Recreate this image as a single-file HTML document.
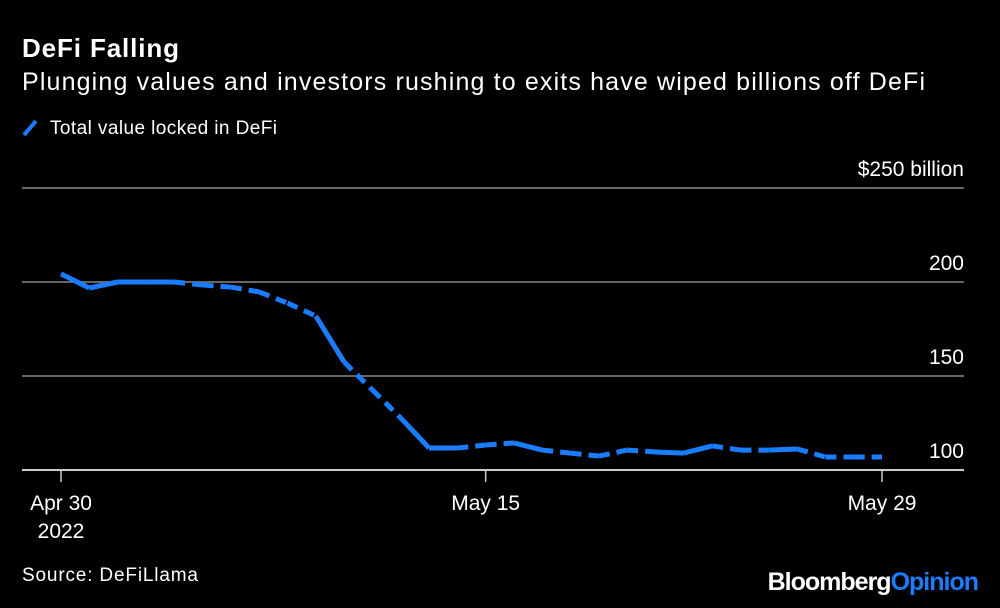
<!DOCTYPE html>
<html><head><meta charset="utf-8"><style>
body{margin:0;background:#000;width:1000px;height:603px;overflow:hidden;font-family:"Liberation Sans",sans-serif;color:#fff}
</style></head><body>
<svg width="1000" height="603">
<text x="22" y="57" font-size="26" font-weight="bold" fill="#fff" textLength="157">DeFi Falling</text>
<text x="22" y="90" font-size="25" fill="#fff" textLength="903">Plunging values and investors rushing to exits have wiped billions off DeFi</text>
<g><line x1="24" y1="135" x2="36" y2="121" stroke="#1a7dff" stroke-width="4"/><text x="50" y="134" font-size="19" fill="#fff" textLength="227">Total value locked in DeFi</text></g>
<g id="grid"></g><g id="xaxis"></g><g id="series"></g>
<text x="22" y="581" font-size="19" fill="#fff" textLength="176">Source: DeFiLlama</text>
<text x="978" y="590" font-size="25" font-weight="bold" fill="#fff" text-anchor="end" letter-spacing="-1">Bloomberg<tspan fill="#1a7dff">Opinion</tspan></text>
</svg>
<script>
const days=[0,1,2,3,4,5,6,7,8,9,10,11,12,13,14,15,16,17,18,19,20,21,22,23,24,25,26,27,28,29];
const values=[204.3,196.8,200,200,200,198.4,197.3,194.7,188.8,181.9,157.4,142.6,127.7,111.7,111.7,113.3,114.4,110.6,109,107.4,110.6,109.6,109,112.8,110.6,110.6,111.2,106.9,106.9,106.9];
const dashed=[0,0,0,0,1,1,1,1,1,0,1,1,0,0,1,1,0,1,1,1,1,0,0,1,1,0,1,1,1];
const yTicks=[100,150,200,250];
const yLabels=["100","150","200","$250 billion"];
const xTicks=[0,15,29];
const xLabels=[["Apr 30","2022"],["May 15"],["May 29"]];
const NS="http://www.w3.org/2000/svg";
const x=d=>61+d*(821/29);
const y=v=>470-(v-100)*1.88;
function mk(t,a,p){const e=document.createElementNS(NS,t);for(const k in a)e.setAttribute(k,a[k]);p.appendChild(e);return e;}
const g=document.getElementById('grid');
yTicks.forEach((t,i)=>{
 const l=mk('line',{x1:22,x2:964,y1:y(t),y2:y(t),stroke:i==0?'#ccc':'#666','stroke-width':2},g);
 
 
 const tx=mk('text',{x:964,y:y(t)-12,'font-size':21,fill:'#fff','text-anchor':'end'},g);
 tx.textContent=yLabels[i];
 
 
});
const xa=document.getElementById('xaxis');
xTicks.forEach((d,i)=>{
 const l=mk('line',{x1:x(d),x2:x(d),y1:471,y2:482,stroke:'#ccc','stroke-width':1.5},xa);
 
 
 xLabels[i].forEach((s,j)=>{
  const tx=mk('text',{x:x(d),y:510+j*28,'font-size':21,fill:'#fff','text-anchor':'middle'},xa);
  tx.textContent=s;
  
  
 });
});
const s=document.getElementById('series');
for(let i=0;i<days.length-1;i++){
 const a={x1:x(days[i]),y1:y(values[i]),x2:x(days[i+1]),y2:y(values[i+1]),stroke:'#1a7dff','stroke-width':5,'stroke-linecap':'butt'};
 if(dashed[i])a['stroke-dasharray']='11 7';
 const l=mk('line',a,s);
 
 
}
</script>
</body></html>
